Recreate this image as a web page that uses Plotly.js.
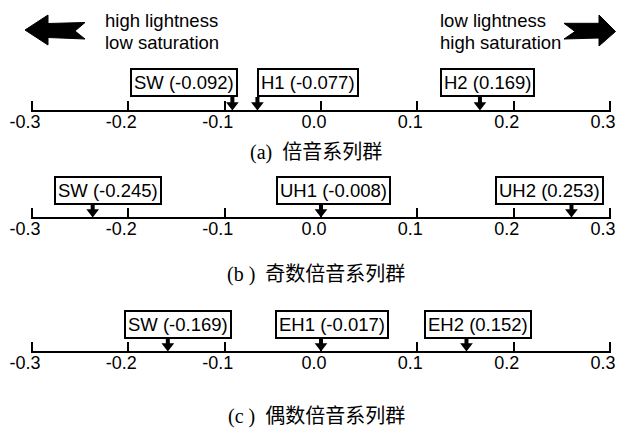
<!DOCTYPE html>
<html>
<head>
<meta charset="utf-8">
<script src="https://cdn.plot.ly/plotly-3.0.1.min.js"></script>
<style>html,body{margin:0;padding:0;background:#fff;}#chart{width:617px;height:432px;}</style>
</head>
<body>
<div id="chart"></div>
<script>
// ---------- data ----------
const tickValues = [-0.3, -0.2, -0.1, 0.0, 0.1, 0.2, 0.3];
const tickLabels = ['-0.3', '-0.2', '-0.1', '0.0', '0.1', '0.2', '0.3'];

const namesA = ['SW', 'H1', 'H2'];
const valuesA = [-0.092, -0.077, 0.169];
const arrowsA = [-0.092, -0.066, 0.165];

const namesB = ['SW', 'UH1', 'UH2'];
const valuesB = [-0.245, -0.008, 0.253];
const arrowsB = [-0.237, 0.0, 0.260];

const namesC = ['SW', 'EH1', 'EH2'];
const valuesC = [-0.169, -0.017, 0.152];
const arrowsC = [-0.159, 0.0, 0.151];

const captionTags = ['(a)', '(b )', '(c )'];
const captionTitles = ['倍音系列群', '奇数倍音系列群', '偶数倍音系列群'];
const leftNote = ['high lightness', 'low saturation'];
const rightNote = ['low lightness', 'high saturation'];

// ---------- layout helpers ----------
const W = 617, H = 432;
const SANS = 'Liberation Sans, Arial, sans-serif';
const groups = [
  {names: namesA, values: valuesA, arrows: arrowsA, axisY: 112, boxY: 82.5, boxX: [-0.142, -0.0138, 0.1726], capY: 150, xa: 'x'},
  {names: namesB, values: valuesB, arrows: arrowsB, axisY: 219, boxY: 190, boxX: [-0.2213, 0.0132, 0.2375], capY: 272, xa: 'x2'},
  {names: namesC, values: valuesC, arrows: arrowsC, axisY: 353, boxY: 324, boxX: [-0.1488, 0.0111, 0.1634], capY: 414, xa: 'x3'}
];
const BOX_HALF = 14.5;
const HEAD = 11;

// pixel scale: -0.3 -> 32px, 0.3 -> 610px; pad the range a little so the end ticks are kept
const PAD = 0.004;
const PXPERUNIT = (610 - 32) / 0.6;
const DOM = [(32 - PAD * PXPERUNIT) / W, (610 + PAD * PXPERUNIT) / W];

function axisDef(axisY, overlay) {
  const a = {
    domain: DOM, range: [tickValues[0] - PAD, tickValues[tickValues.length - 1] + PAD], anchor: 'free', position: 1 - axisY / H,
    showline: false,
    ticks: 'inside', ticklen: 11, tickwidth: 2, tickcolor: '#000',
    tickmode: 'array', tickvals: tickValues, ticktext: tickLabels,
    tickfont: {family: SANS, size: 18, color: '#000'},
    ticklabelstandoff: -3, ticklabelshift: -7, ticklabeloverflow: 'allow',
    showgrid: false, zeroline: false, fixedrange: true
  };
  if (overlay) a.overlaying = 'x';
  return a;
}

const traces = [];
const annotations = [];
const shapes = [];
groups.forEach((g, gi) => {
  // axis base line spanning the tick range
  shapes.push({type: 'line', xref: 'x', yref: 'y', x0: tickValues[0] - 0.001, x1: tickValues[tickValues.length - 1] + 0.001,
    y0: g.axisY - 1, y1: g.axisY - 1, line: {color: '#000', width: 2.2}});
  const sx = [], sy = [];
  g.arrows.forEach(v => { sx.push(v, v, null); sy.push(g.boxY + BOX_HALF, g.axisY - HEAD / 2 - 2, null); });
  traces.push({x: sx, y: sy, xaxis: g.xa, yaxis: 'y', mode: 'lines', line: {color: '#000', width: 4}, hoverinfo: 'skip', showlegend: false});
  traces.push({x: g.arrows, y: g.arrows.map(() => g.axisY - HEAD / 2 - 1.5), xaxis: g.xa, yaxis: 'y', mode: 'markers',
    marker: {symbol: 'triangle-down', size: HEAD, color: '#000', line: {width: 0}}, hoverinfo: 'skip', showlegend: false});
  g.names.forEach((n, i) => {
    annotations.push({
      xref: 'x', yref: 'y', x: g.boxX[i], y: g.boxY, showarrow: false,
      text: n + ' (' + g.values[i].toFixed(3) + ')',
      font: {family: SANS, size: 18.5, color: '#000'},
      bordercolor: '#000', borderwidth: 2, borderpad: 2, bgcolor: '#fff'
    });
  });
  annotations.push({
    xref: 'paper', yref: 'y', x: 316 / W, y: g.capY, showarrow: false, xanchor: 'center', yanchor: 'middle',
    text: captionTags[gi] + '\u00a0\u00a0<span style="font-family:Noto Sans CJK SC">' + captionTitles[gi] + '</span>',
    font: {family: 'Liberation Serif, Times New Roman, serif', size: 20, color: '#000'}
  });
});

[20, 42].forEach((yy, i) => {
  annotations.push({xref: 'paper', yref: 'y', x: 103 / W, y: yy, xanchor: 'left', yanchor: 'middle', showarrow: false,
    text: leftNote[i], font: {family: SANS, size: 18.5, color: '#000'}});
  annotations.push({xref: 'paper', yref: 'y', x: 438 / W, y: yy, xanchor: 'left', yanchor: 'middle', showarrow: false,
    text: rightNote[i], font: {family: SANS, size: 18.5, color: '#000'}});
});

function pathOf(pts) {
  return 'M ' + pts.map(p => (p[0] / W).toFixed(5) + ',' + p[1]).join(' L ') + ' Z';
}
const leftArrow = [[25, 30], [48, 15], [48, 23.5], [85, 22.5], [75, 31], [85, 39], [48, 37.5], [48, 45]];
const rightArrow = [[564, 23.3], [599, 23.3], [599, 15], [615.5, 31.5], [599, 46], [599, 38], [564, 39], [575, 31.5]];
[leftArrow, rightArrow].forEach(p => shapes.push({
  type: 'path', xref: 'paper', yref: 'y', path: pathOf(p), fillcolor: '#000', line: {color: '#000', width: 1}
}));

const layout = {
  width: W, height: H, margin: {l: 0, r: 0, t: 0, b: 0},
  paper_bgcolor: '#fff', plot_bgcolor: 'rgba(0,0,0,0)', showlegend: false,
  xaxis: axisDef(groups[0].axisY, false),
  xaxis2: axisDef(groups[1].axisY, true),
  xaxis3: axisDef(groups[2].axisY, true),
  yaxis: {domain: [0, 1], range: [H, 0], visible: false, fixedrange: true, showgrid: false, zeroline: false},
  annotations: annotations, shapes: shapes
};

Plotly.newPlot('chart', traces, layout, {displayModeBar: false, staticPlot: true});
</script>
</body>
</html>
